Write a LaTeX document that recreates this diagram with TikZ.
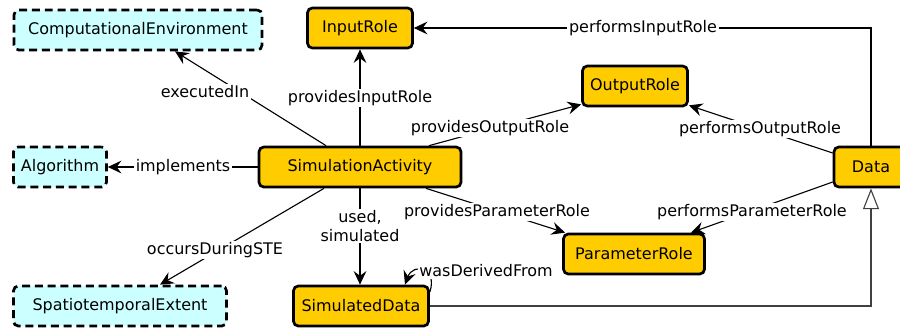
\documentclass[tikz,border=0pt]{standalone}
\usepackage{fontspec}
\setmainfont{DejaVu Sans}
\usetikzlibrary{arrows.meta,calc}

\definecolor{clsfill}{HTML}{FFCC00}
\definecolor{extfill}{HTML}{CCFFFF}

\def\px{0.022cm}
\def\boxh{40}

\begin{document}
\begin{tikzpicture}[x=\px,y=-\px,
    every node/.style={font=\fontsize{10}{11.5}\selectfont},
    cls/.style={draw,line width=1.7pt,rounded corners=3pt,fill=clsfill,
      minimum height=\boxh*\px,inner xsep=2pt},
    ext/.style={cls,fill=extfill,dash pattern=on 5pt off 3pt},
    boxw/.style={minimum width=#1*\px},
    rel/.style={line width=0.7pt,-{Stealth[length=8.5pt,width=8pt,inset=3pt]}},
    isa/.style={line width=0.7pt,draw=black!75,-{Triangle[open,length=13pt,width=10pt]}},
    lbl/.style={fill=white,inner sep=1pt}]

  \useasboundingbox (0,0) rectangle (900,329);

  \node[ext,boxw=248] (ce) at (138,30) {ComputationalEnvironment};
  \node[ext,boxw=93] (alg) at (60,167) {Algorithm};
  \node[ext,boxw=213] (ste) at (120,306) {SpatiotemporalExtent};
  \node[cls,boxw=105] (ir) at (360,28) {InputRole};
  \node[cls,boxw=105] (or) at (635,86) {OutputRole};
  \node[cls,boxw=202] (sa) at (360,167) {SimulationActivity};
  \node[cls,boxw=141] (pr) at (634,254) {ParameterRole};
  \node[cls,boxw=135] (sd) at (361,306) {SimulatedData};
  \node[cls,boxw=74] (data) at (871,167) {Data};

  \draw[rel] ($(sa.north)+(-34,0)$) -- ($(ce.south)+(37,0)$)
    node[lbl] (l-exec) at (205,92) {executedIn};
  \draw[rel] (sa.north) -- (sa.north |- ir.south)
    node[lbl] (l-pir) at (360,98) {providesInputRole};
  \draw[rel] ($(sa.north)+(69,0)$) -- ($(or.south west)+(0,-3)$)
    node[lbl] (l-por) at (490,128) {providesOutputRole};
  \draw[rel] (sa.west) -- (alg.east)
    node[lbl] (l-impl) at (183,167) {implements};
  \draw[rel] ($(sa.south)+(66,0)$) -- ($(pr.north west)+(3,0)$)
    node[lbl] (l-ppr) at (497,212) {providesParameterRole};
  \draw[rel] ($(sa.south)+(-36,0)$) -- ($(ste.north)+(40,0)$)
    node[lbl] (l-ste) at (215,250) {occursDuringSTE};
  \draw[rel] (sa.south) -- (sa.south |- sd.north)
    node[lbl,align=center] (l-used) at (360,226) {used,\\simulated};

  \draw[rel] (data.north) |- (ir.east)
    node[lbl] (l-fir) at (643,28) {performsInputRole};
  \draw[rel] ($(data.west)+(0,-14)$) -- ($(or.south east)+(0,-2)$)
    node[lbl] (l-for) at (760,129) {performsOutputRole};
  \draw[rel] ($(data.west)+(0,15)$) -- ($(pr.north east)+(-15,0)$)
    node[lbl] (l-fpr) at (752,212) {performsParameterRole};

  \draw[isa] (sd.east) -| (data.south);
  \draw[rel] ($(sd.east)+(0,-14)$) .. controls +(8,-25) and +(8,-22) .. ($(sd.north)+(44,0)$)
    node[lbl] (l-der) at (486,271) {wasDerivedFrom};
\end{tikzpicture}
\end{document}
